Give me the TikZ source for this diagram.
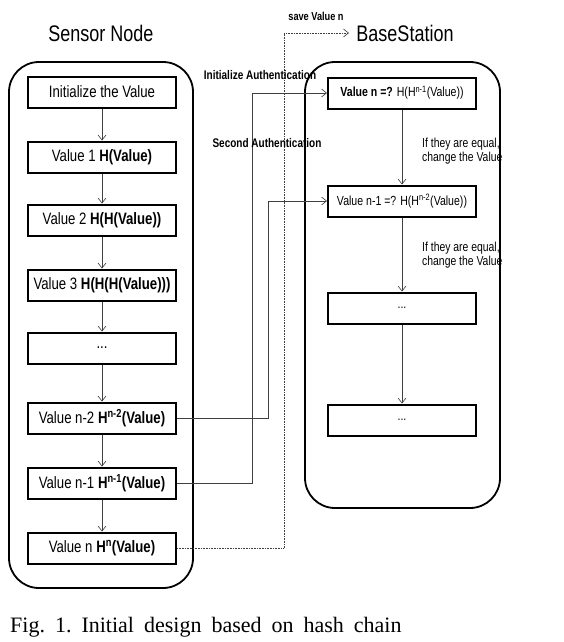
\documentclass[tikz,border=0pt]{standalone}
\usepackage{fontspec}
\setmainfont[FakeStretch=0.8]{Liberation Sans}
\newfontfamily\captionfont{Liberation Serif}
\usetikzlibrary{arrows.meta}

\tikzset{
  hashbox/.style={draw, line width=2pt, minimum width=148pt, minimum height=31pt,
    inner sep=0pt, font=\fontsize{16.5}{18}\selectfont},
  checkbox/.style={hashbox, font=\fontsize{13.2}{15}\selectfont},
  container/.style={draw, line width=1.8pt, rounded corners=30pt},
  flow/.style={-{Straight Barb[length=5pt,width=8pt]}, black!75, line width=0.6pt},
  savelink/.style={flow, densely dotted},
  title/.style={font=\fontsize{22.5}{24}\selectfont},
  authlabel/.style={font=\fontsize{12.5}{14}\selectfont\bfseries},
  note/.style={align=left, anchor=west, inner sep=0pt, font=\fontsize{13}{14.5}\selectfont},
}

\begin{document}
\begin{tikzpicture}[x=1pt, y=-1pt]
    \useasboundingbox (0,0) rectangle (563,642);
    % titles
    \node[title] (sensortitle) at (101,33) {Sensor Node};
    \node[title] (basetitle) at (405,33) {BaseStation};
    % sensor node chain
    \node[hashbox] (init) at (102,92) {Initialize the Value};
    \node[hashbox] (hashone) at (102,157) {Value 1 \textbf{H(Value)}};
    \node[hashbox] (hashtwo) at (102,220) {Value 2 \textbf{H(H(Value))}};
    \node[hashbox] (hashthree) at (102,285) {Value 3 \textbf{H(H(H(Value)))}};
    \node[hashbox] (hashdots) at (102,348) {...};
    \node[hashbox] (hashntwo) at (102,418) {Value n-2 \textbf{H\textsuperscript{n-2}(Value)}};
    \node[hashbox] (hashnone) at (102,483) {Value n-1 \textbf{H\textsuperscript{n-1}(Value)}};
    \node[hashbox] (hashn) at (102,548) {Value n \textbf{H\textsuperscript{n}(Value)}};
    \draw[flow] (init) -- (hashone);
    \draw[flow] (hashone) -- (hashtwo);
    \draw[flow] (hashtwo) -- (hashthree);
    \draw[flow] (hashthree) -- (hashdots);
    \draw[flow] (hashdots) -- (hashntwo);
    \draw[flow] (hashntwo) -- (hashnone);
    \draw[flow] (hashnone) -- (hashn);
    % base station checks
    \node[checkbox] (checkn) at (402,93) {\textbf{Value n =?} H(H\textsuperscript{n-1}(Value))};
    \node[checkbox] (checknone) at (402,201) {Value n-1 =? H(H\textsuperscript{n-2}(Value))};
    \node[checkbox] (checkdots) at (402,308) {...};
    \node[checkbox] (checklast) at (402,420) {...};
    \draw[flow] (checkn) -- (checknone);
    \draw[flow] (checknone) -- (checkdots);
    \draw[flow] (checkdots) -- (checklast);
    \node[note] (noteone) at (422,151) {If they are equal,\\change the Value};
    \node[note] (notetwo) at (422,255) {If they are equal,\\change the Value};
    % containers
    \draw[container] (9,62) rectangle (193,588);
    \draw[container] (305,62) rectangle (500,508);
    % authentication links
    \coordinate (bendone) at (252,0);
    \coordinate (bendtwo) at (268,0);
    \coordinate (bendsave) at (284,0);
    \draw[flow] (hashnone.east) -| (bendone |- checkn.west) -- (checkn.west);
    \draw[flow] (hashntwo.east) -| (bendtwo |- checknone.west) -- (checknone.west);
    \draw[savelink, shorten >=4pt] (hashn.east) -| (bendsave |- basetitle.west) -- (basetitle.west);
    \node[authlabel] (initlabel) at (260,75) {Initialize Authentication};
    \node[authlabel] (secondlabel) at (267,143) {Second Authentication};
    \node[authlabel, font=\fontsize{11.5}{13}\selectfont\bfseries] (savelabel) at (316,16) {save Value n};
    % caption
    \node[anchor=base west, inner sep=0pt, font=\captionfont\fontsize{22}{24}\selectfont]
      (caption) at (10,632) {\spaceskip=10pt \xspaceskip=10pt Fig. 1. Initial design based on hash chain};
\end{tikzpicture}
\end{document}
